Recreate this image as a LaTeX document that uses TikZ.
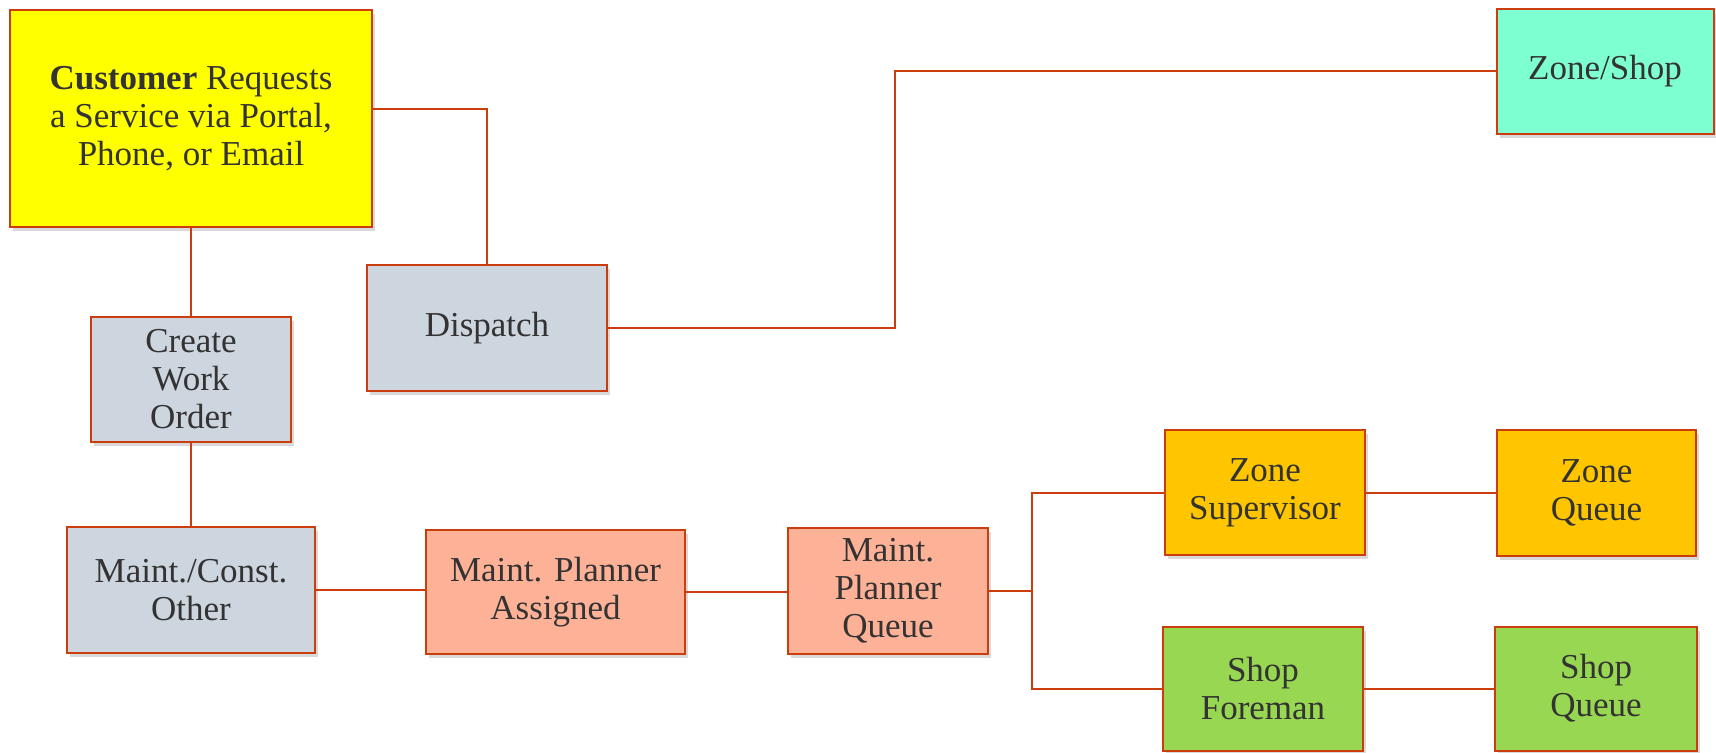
\documentclass[tikz,border=0pt]{standalone}
\usepackage{fontspec}
\setmainfont{Liberation Serif}
\newfontfamily\boxfont{Liberation Serif}
\usetikzlibrary{shadows}

\definecolor{linered}{HTML}{CC3D0E}
\definecolor{txtgray}{HTML}{333333}
\definecolor{custyellow}{HTML}{FFFF00}
\definecolor{stepgray}{HTML}{CDD5DF}
\definecolor{zoneaqua}{HTML}{7EFFD2}
\definecolor{plansalmon}{HTML}{FDB197}
\definecolor{zonegold}{HTML}{FFC600}
\definecolor{shopgreen}{HTML}{98D752}

\tikzset{
  box/.style={draw=linered, line width=1pt, align=center, text=txtgray,
    inner sep=2pt, font=\boxfont\fontsize{17.5}{19}\selectfont,
    drop shadow={shadow xshift=1.5pt, shadow yshift=-2pt, opacity=.3}},
  link/.style={draw=linered, line width=1pt}
}

\begin{document}
\begin{tikzpicture}[x=0.5pt,y=-0.5pt]

\useasboundingbox (0,0) rectangle (1716,752);

\node[box, fill=custyellow, minimum width=181pt, minimum height=108.5pt] (cust) at (191,118.5)
  {\textbf{Customer} Requests\\a Service via Portal,\\Phone, or Email};
\node[box, fill=stepgray, minimum width=120pt, minimum height=63pt] (disp) at (487,328) {Dispatch};
\node[box, fill=zoneaqua, minimum width=108.5pt, minimum height=62.5pt] (zone) at (1605,71) {Zone/Shop};

\node[box, fill=stepgray, minimum width=100pt, minimum height=62.5pt] (cwo) at (191,379.5) {Create\\Work\\Order};
\node[box, fill=stepgray, minimum width=124pt, minimum height=63pt] (mco) at (191,590) {Maint./Const.\\Other};

\node[box, fill=plansalmon, minimum width=129.5pt, minimum height=62pt] (pa) at (555.5,592) {Maint. Planner\\Assigned};
\node[box, fill=plansalmon, minimum width=100pt, minimum height=63pt] (pq) at (888,591) {Maint.\\Planner\\Queue};

\node[box, fill=zonegold, minimum width=100pt, minimum height=62.5pt] (zs) at (1265,492.5) {Zone\\Supervisor};
\node[box, fill=zonegold, minimum width=99.5pt, minimum height=63pt] (zq) at (1596.5,493) {Zone\\Queue};

\node[box, fill=shopgreen, minimum width=100pt, minimum height=62pt] (sf) at (1263,688.5) {Shop\\Foreman};
\node[box, fill=shopgreen, minimum width=101pt, minimum height=62pt] (sq) at (1596,688.5) {Shop\\Queue};

% customer branch
\draw[link] (cust.south) -- (cwo.north);
\draw[link] (cwo.south) -- (mco.north);
\draw[link] (cust.east |- 0,109) -| (disp.north);

\coordinate (bend) at (895,328);
\draw[link] (disp.east) -- (bend) |- (zone.west);

% planner chain
\draw[link] (mco.east) -- (mco.east -| pa.west);
\draw[link] (pa.east) -- (pa.east -| pq.west);

\coordinate (fork) at (1032,591);
\draw[link] (pq.east) -- (fork);
\draw[link] (fork) |- (zs.west);
\draw[link] (fork) |- (sf.west);

\draw[link] (zs.east) -- (zs.east -| zq.west);
\draw[link] (sf.east) -- (sq.west);

\end{tikzpicture}
\end{document}
